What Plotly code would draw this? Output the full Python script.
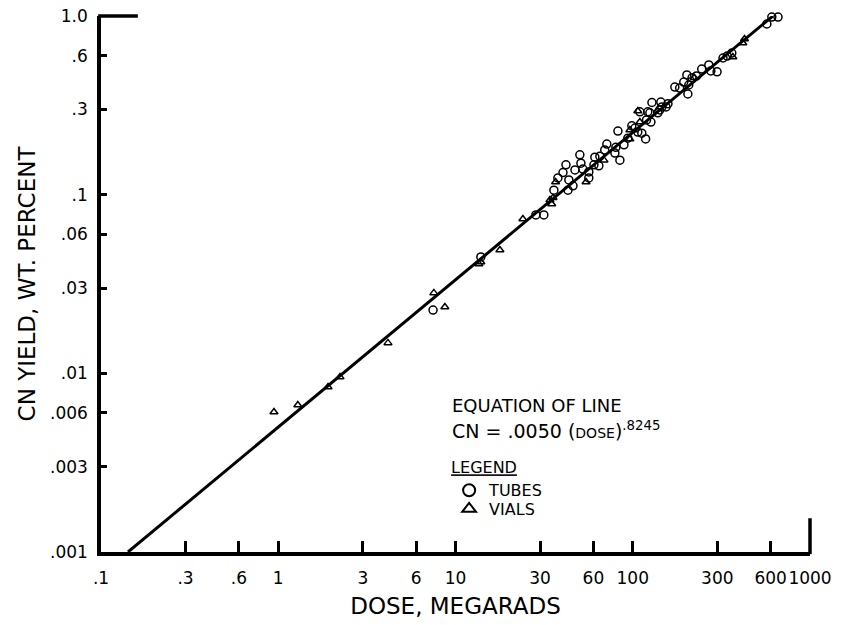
import plotly.graph_objects as go

# ---- data ----
tubes_dose = [7.47, 13.9, 28.4, 31.5, 35.9, 43.1, 43.6, 46.0, 47.2, 50.3, 51.0, 52.3,
              56.5, 56.5, 61.1, 65.2, 64.4, 71.4, 80.3, 79.3, 82.5, 84.6, 98.8, 106.8,
              112.5, 118.2, 126.6, 121.6, 138.6, 154, 158, 128.3, 144, 146, 124.9, 109.6,
              172.8, 204.6, 207, 202, 216, 245, 268.6, 275.8, 299, 362, 571, 609, 660,
              37.8, 40.4, 42.0, 60.4, 69.5, 89.2, 93.8, 103, 119.6, 142, 184, 194, 229,
              323, 341]
tubes_cn = [0.0226, 0.0448, 0.077, 0.077, 0.106, 0.106, 0.121, 0.112, 0.1375, 0.167, 0.150, 0.139,
            0.124, 0.134, 0.162, 0.164, 0.145, 0.192, 0.184, 0.171, 0.227, 0.156, 0.243, 0.224,
            0.221, 0.205, 0.255, 0.291, 0.287, 0.310, 0.323, 0.328, 0.330, 0.310, 0.287, 0.291,
            0.400, 0.366, 0.411, 0.468, 0.451, 0.505, 0.532, 0.493, 0.487, 0.620, 0.902, 0.987, 0.987,
            0.124, 0.133, 0.147, 0.147, 0.178, 0.190, 0.207, 0.236, 0.262, 0.298, 0.395, 0.427, 0.462,
            0.582, 0.597]

vials_dose = [0.946, 1.29, 1.91, 2.23, 4.16, 7.55, 8.71, 13.55, 13.9, 17.8, 24.0, 34.1,
              34.9, 36.7, 54.5, 68.8, 96.3, 96.3, 109.6, 106.8, 222, 367, 418, 427, 35.5]
vials_cn = [0.00608, 0.00665, 0.00839, 0.00955, 0.0148, 0.0282, 0.0235, 0.0409, 0.0420, 0.0490,
            0.0731, 0.0934, 0.0887, 0.1178, 0.1178, 0.156, 0.2046, 0.230, 0.2553, 0.294, 0.451,
            0.589, 0.706, 0.743, 0.096]

# equation of line: CN = .0050 (DOSE)^.8245
line_coef = 0.0050
line_exp = 0.8245
line_dose = [0.142, 617]
line_cn = [line_coef * d ** line_exp for d in line_dose]

x_tickvals = [0.1, 0.3, 0.6, 1, 3, 6, 10, 30, 60, 100, 300, 600, 1000]
x_ticktext = [".1", ".3", ".6", "1", "3", "6", "10", "30", "60", "100", "300", "600", "1000"]
y_tickvals = [1.0, 0.6, 0.3, 0.1, 0.06, 0.03, 0.01, 0.006, 0.003, 0.001]
y_ticktext = ["1.0", ".6", ".3", ".1", ".06", ".03", ".01", ".006", ".003", ".001"]

FONT = "DejaVu Sans"

fig = go.Figure()
fig.add_trace(go.Scatter(x=line_dose, y=line_cn, mode="lines",
                         line=dict(color="black", width=3), showlegend=False,
                         hoverinfo="skip"))
fig.add_trace(go.Scatter(x=tubes_dose, y=tubes_cn, mode="markers", name="TUBES",
                         legend="legend",
                         marker=dict(symbol="circle-open", size=8, color="black",
                                     line=dict(width=1.5, color="black")),
                         cliponaxis=False))
fig.add_trace(go.Scatter(x=vials_dose, y=vials_cn, mode="markers", name="VIALS",
                         legend="legend2",
                         marker=dict(symbol="triangle-up-open", size=7, color="black",
                                     line=dict(width=1.5, color="black")),
                         cliponaxis=False))

fig.update_layout(
    width=856, height=625,
    margin=dict(l=101, r=46, t=16, b=73),
    paper_bgcolor="white", plot_bgcolor="white",
    font=dict(family=FONT, color="black", size=17),
    xaxis=dict(type="log", range=[-1, 3], tickvals=x_tickvals, ticktext=x_ticktext,
               ticks="inside", ticklen=11, tickwidth=3, tickcolor="black",
               showline=True, linewidth=3.5, linecolor="black", automargin=False,
               showgrid=False, zeroline=False, ticklabelstandoff=8, tickangle=0,
               ticklabeloverflow="allow",
               tickfont=dict(size=17, family=FONT),
               title=dict(text="DOSE, MEGARADS", font=dict(size=23, family=FONT), standoff=12)),
    yaxis=dict(type="log", range=[-3, 0], tickvals=y_tickvals, ticktext=y_ticktext,
               ticks="inside", ticklen=6, tickwidth=3, tickcolor="black",
               showline=True, linewidth=3.5, linecolor="black", automargin=False,
               showgrid=False, zeroline=False, ticklabelstandoff=6,
               ticklabeloverflow="allow",
               tickfont=dict(size=17, family=FONT),
               title=dict(text="CN YIELD, WT. PERCENT", font=dict(size=23, family=FONT), standoff=9)),
    legend=dict(x=0.491, y=0.1856, xanchor="left", yanchor="top",
                bgcolor="rgba(0,0,0,0)", font=dict(size=16, family=FONT),
                title=dict(text="<u>LEGEND</u>", font=dict(size=16, family=FONT)),
                itemsizing="constant"),
    legend2=dict(x=0.491, y=0.112, xanchor="left", yanchor="top",
                 bgcolor="rgba(0,0,0,0)", font=dict(size=16, family=FONT),
                 itemsizing="constant"),
    shapes=[
        dict(type="line", xref="paper", yref="paper", x0=-0.004, x1=0.052, y0=1, y1=1,
             line=dict(color="black", width=3.5)),
        dict(type="line", xref="paper", yref="paper", x0=1, x1=1, y0=-0.004, y1=0.063,
             line=dict(color="black", width=3.5)),
    ],
    annotations=[
        dict(xref="paper", yref="paper", x=0.492, y=0.274, xanchor="left", yanchor="middle",
             text="EQUATION OF LINE", showarrow=False, font=dict(size=18, family=FONT)),
        dict(xref="paper", yref="paper", x=0.492, y=0.227, xanchor="left", yanchor="middle",
             text="CN = .0050 (<span style='font-size:14px'>DOSE</span>)<sup>.8245</sup>",
             showarrow=False, font=dict(size=19, family=FONT)),
    ],
)

fig.write_html("out.html", config={"displayModeBar": False},
               post_script="document.body.style.margin='0';")
